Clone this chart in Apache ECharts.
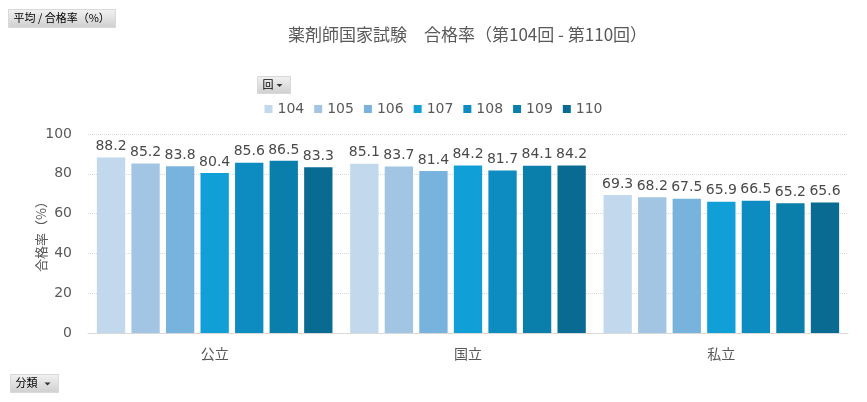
<!DOCTYPE html>
<html>
<head>
<meta charset="utf-8">
<script src="https://cdn.jsdelivr.net/npm/echarts@6/dist/echarts.min.js"></script>
<style>
html, body { margin: 0; padding: 0; background: #fff; }
#main { width: 867px; height: 402px; }
</style>
</head>
<body>
<div id="main"></div>
<script>
// 分類
var categories = ['公立', '国立', '私立'];
// 回 (legend)
var rounds = ['104', '105', '106', '107', '108', '109', '110'];
// 合格率 per round, order: 公立, 国立, 私立
var rate104 = [88.2, 85.1, 69.3];
var rate105 = [85.2, 83.7, 68.2];
var rate106 = [83.8, 81.4, 67.5];
var rate107 = [80.4, 84.2, 65.9];
var rate108 = [85.6, 81.7, 66.5];
var rate109 = [86.5, 84.1, 65.2];
var rate110 = [83.3, 84.2, 65.6];
var yTicks = [0, 20, 40, 60, 80, 100];

var colors = ['#c2d8ec', '#a2c5e3', '#78b3de', '#109fd7', '#0c8cc0', '#0a7fab', '#0a6b92'];
var font = '"Noto Sans CJK JP", "Noto Sans", sans-serif';
var numFont = '"DejaVu Sans", sans-serif';

var allRates = [rate104, rate105, rate106, rate107, rate108, rate109, rate110];
var series = [];
for (var i = 0; i < rounds.length; i++) {
	series.push({
		name: rounds[i],
		type: 'bar',
		barGap: '22%',
		barCategoryGap: '7%',
		itemStyle: { color: colors[i] },
		label: {
			show: true,
			position: 'top',
			distance: 4,
			color: '#4a4a4a',
			fontSize: 14,
			fontFamily: numFont
		},
		data: allRates[i]
	});
}

var myChart = echarts.init(document.getElementById('main'));

// pivot field button
function button(x, y, w, h, text, arrow) {
	var children = [{
		type: 'rect',
		shape: { x: 0, y: 0, width: w, height: h },
		style: {
			fill: new echarts.graphic.LinearGradient(0, 0, 0, 1, [
				{ offset: 0, color: '#f2f2f2' },
				{ offset: 1, color: '#cfcfcf' }
			]),
			stroke: '#d9d9d9'
		}
	}, {
		type: 'text',
		left: 5, top: 3,
		style: { text: text, fontSize: 11, fill: '#000', fontFamily: font }
	}];
	if (arrow) {
		children.push({
			type: 'polygon',
			shape: { points: [[w - 14, h / 2 - 1], [w - 8, h / 2 - 1], [w - 11, h / 2 + 2]] },
			style: { fill: '#333' }
		});
	}
	return { type: 'group', left: x, top: y, children: children };
}

option = {
	backgroundColor: '#fff',
	color: colors,
	title: {
		text: '薬剤師国家試験　合格率（第104回 - 第110回）',
		left: 283,
		top: 21,
		textStyle: { color: '#595959', fontSize: 17, fontWeight: 'normal', fontFamily: font }
	},
	legend: {
		top: 97,
		left: 'center',
		itemWidth: 8,
		itemHeight: 8,
		itemGap: 10,
		icon: 'rect',
		textStyle: { color: '#595959', fontSize: 14, fontFamily: numFont },
		data: rounds
	},
	grid: { left: 88, right: 19, top: 134, bottom: 69 },
	xAxis: {
		type: 'category',
		data: categories,
		axisTick: { show: false },
		axisLine: { lineStyle: { color: '#d9d9d9' } },
		axisLabel: { color: '#595959', fontSize: 14, margin: 14, fontFamily: font }
	},
	yAxis: {
		type: 'value',
		min: yTicks[0],
		max: yTicks[yTicks.length - 1],
		interval: 20,
		name: '合格率（%）',
		nameLocation: 'middle',
		nameGap: 40,
		nameMoveOverlap: false,
		nameRotate: 90,
		nameTextStyle: { color: '#595959', fontSize: 13, fontFamily: font },
		axisLabel: { color: '#595959', fontSize: 14, margin: 16, fontFamily: numFont },
		splitLine: { lineStyle: { color: '#d9d9d9', type: 'dotted' } }
	},
	graphic: [
		button(8, 9, 107, 18, '平均 / 合格率（%）', false),
		button(257, 76, 33, 17, '回', true),
		button(10, 374, 48, 18, '分類', true)
	],
	series: series
};

myChart.setOption(option);
</script>
</body>
</html>
